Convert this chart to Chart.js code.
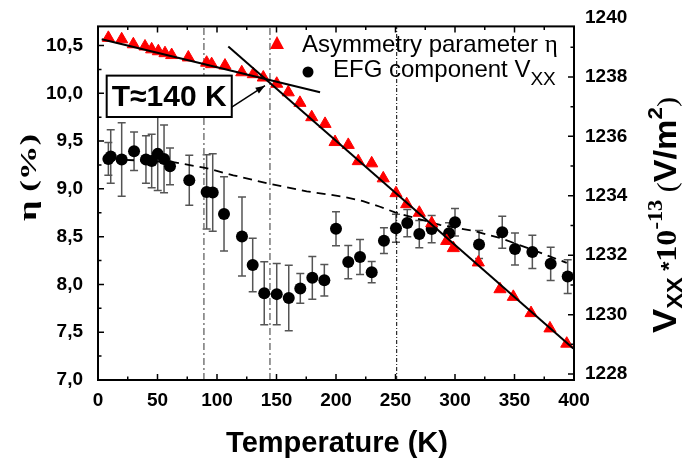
<!DOCTYPE html>
<html>
<head>
<meta charset="utf-8">
<script src="https://cdn.jsdelivr.net/npm/chart.js@4.4.1/dist/chart.umd.min.js"></script>
<style>
  html, body { margin: 0; padding: 0; background: #fff; }
  #wrap { width: 686px; height: 466px; position: relative; }
</style>
</head>
<body>
<div id="wrap"><canvas id="myChart"></canvas></div>
<script>
// asymmetry parameter eta (%) vs temperature (K)
const etaTemp = [8.7, 19.9, 29.7, 39.5, 45.1, 50.7, 56.3, 61.9, 75.9, 91.3, 95.5, 106.7, 120.8, 130.5, 138.9, 150.2, 159.9, 169.7, 179.6, 190.8, 199.2, 210.3, 218.7, 230.0, 239.7, 250.4, 259.4, 270.0, 280.4, 293.0, 298.6, 319.6, 337.8, 349.0, 363.9, 379.8, 393.9];
const etaValues = [10.58, 10.565, 10.513, 10.49, 10.46, 10.44, 10.42, 10.40, 10.375, 10.32, 10.305, 10.29, 10.22, 10.20, 10.165, 10.10, 10.01, 9.9, 9.75, 9.68, 9.49, 9.46, 9.29, 9.267, 9.11, 8.955, 8.84, 8.75, 8.64, 8.455, 8.38, 8.23, 7.95, 7.87, 7.70, 7.54, 7.38];

// EFG component Vxx (right axis) with error bars
const vxxTemp = [8.7, 10.7, 19.9, 30.3, 40.3, 45.1, 50.2, 55.5, 60.5, 76.7, 91.3, 96.4, 105.9, 121.0, 130.0, 139.7, 150.2, 160.3, 170.0, 180.1, 190.2, 200.0, 210.3, 220.2, 230.0, 240.3, 250.4, 259.9, 270.0, 280.4, 295.0, 300.0, 320.2, 339.7, 350.4, 365.0, 380.4, 394.7];
const vxxValues = [1235.24, 1235.32, 1235.22, 1235.5, 1235.22, 1235.17, 1235.41, 1235.24, 1234.99, 1234.52, 1234.13, 1234.11, 1233.39, 1232.63, 1231.67, 1230.72, 1230.69, 1230.56, 1230.88, 1231.24, 1231.16, 1232.89, 1231.77, 1231.94, 1231.43, 1232.49, 1232.91, 1233.08, 1232.71, 1232.88, 1232.74, 1233.11, 1232.36, 1232.77, 1232.21, 1232.11, 1231.71, 1231.28];
const vxxErrors = [0.55, 0.9, 1.24, 0.65, 0.8, 0.9, 1.23, 1.14, 0.62, 0.84, 1.25, 1.3, 1.25, 1.33, 0.9, 1.06, 1.03, 1.1, 0.5, 0.72, 0.53, 0.57, 0.56, 0.59, 0.36, 0.43, 0.47, 0.46, 0.46, 0.46, 0.35, 0.46, 0.47, 0.54, 0.54, 0.56, 0.56, 0.57];

// dashed guide through Vxx
const trendTemp = [22.7, 63.3, 89.9, 113.7, 143.1, 175.4, 205.9, 222.7, 237.0, 249.6, 262.2, 287.4, 315.4, 337.8, 368.7, 393.9];
const trendValues = [1235.21, 1235.13, 1234.94, 1234.69, 1234.41, 1234.15, 1233.97, 1233.82, 1233.63, 1233.44, 1233.3, 1233.02, 1232.82, 1232.58, 1232.13, 1231.74];

// two linear fits of eta
const fitLowTemp = [3.1, 186.6];
const fitLowEta = [10.565, 10.01];
const fitHighTemp = [109.5, 399.4];
const fitHighEta = [10.49, 7.33];

// vertical dash-dot markers
const markTemp = [89, 144.5, 251];

// tick labels
const tempTicks = [0, 50, 100, 150, 200, 250, 300, 350, 400];
const etaTicks = [7.0, 7.5, 8.0, 8.5, 9.0, 9.5, 10.0, 10.5];
const vxxTicks = [1228, 1230, 1232, 1234, 1236, 1238, 1240];

const note = { text: 'T\u2248140 K', box: [7.3, 112.4, 10.185, 9.752], from: [112.4, 9.856], to: [140.3, 10.08] };

const sans = '"Liberation Sans", Arial, sans-serif';
const serif = '"Liberation Serif", "Times New Roman", serif';
const tickFont = { family: sans, size: 19, weight: 'bold' };

function withMinor(list) {
  const out = [];
  list.forEach((v, i) => {
    out.push(v);
    if (i < list.length - 1) out.push((v + list[i + 1]) / 2);
  });
  return out;
}

function pts(xs, ys) {
  return xs.map((x, i) => ({ x: x, y: ys[i] }));
}

function drawRich(ctx, parts, x, y, len, rotate) {
  ctx.save();
  ctx.translate(x, y);
  if (rotate) ctx.rotate(-Math.PI / 2);
  let total = 0;
  parts.forEach(p => { ctx.font = p.font; p.w = ctx.measureText(p.text).width; total += p.w; });
  ctx.scale(len / total, 1);
  ctx.fillStyle = '#000';
  ctx.textAlign = 'left';
  ctx.textBaseline = 'alphabetic';
  let cx = 0;
  parts.forEach(p => { ctx.font = p.font; ctx.fillText(p.text, cx, p.dy || 0); cx += p.w; });
  ctx.restore();
}

const decor = {
  id: 'decor',
  beforeDatasetsDraw(chart) {
    const ctx = chart.ctx, x = chart.scales.x, y2 = chart.scales.y2;
    ctx.save();
    ctx.strokeStyle = '#555';
    ctx.lineWidth = 1.5;
    vxxTemp.forEach((t, i) => {
      const px = x.getPixelForValue(t);
      const top = y2.getPixelForValue(vxxValues[i] + vxxErrors[i]);
      const bot = y2.getPixelForValue(vxxValues[i] - vxxErrors[i]);
      ctx.beginPath();
      ctx.moveTo(px, top); ctx.lineTo(px, bot);
      ctx.moveTo(px - 4, top); ctx.lineTo(px + 4, top);
      ctx.moveTo(px - 4, bot); ctx.lineTo(px + 4, bot);
      ctx.stroke();
    });
    ctx.restore();
  },
  afterDraw(chart) {
    const ctx = chart.ctx, a = chart.chartArea;
    const x = chart.scales.x, y = chart.scales.y, y2 = chart.scales.y2;
    ctx.save();
    ctx.strokeStyle = '#000';
    ctx.lineWidth = 2;
    ctx.strokeRect(a.left, a.top, a.right - a.left, a.bottom - a.top);

    ctx.lineWidth = 1.5;
    ctx.beginPath();
    x.ticks.forEach(t => {
      if (t.value < x.min || t.value > x.max) return;
      const len = t.label ? 6 : 3.5, px = x.getPixelForValue(t.value);
      ctx.moveTo(px, a.bottom); ctx.lineTo(px, a.bottom - len);
      ctx.moveTo(px, a.top); ctx.lineTo(px, a.top + len);
    });
    y.ticks.forEach(t => {
      if (t.value < y.min || t.value > y.max) return;
      const len = t.label ? 6 : 3.5, py = y.getPixelForValue(t.value);
      ctx.moveTo(a.left, py); ctx.lineTo(a.left + len, py);
    });
    y2.ticks.forEach(t => {
      if (t.value < y2.min || t.value > y2.max) return;
      const len = t.label ? 6 : 3.5, py = y2.getPixelForValue(t.value);
      ctx.moveTo(a.right, py); ctx.lineTo(a.right - len, py);
    });
    ctx.stroke();

    // annotation box and arrow
    const bx1 = x.getPixelForValue(note.box[0]), bx2 = x.getPixelForValue(note.box[1]);
    const by1 = y.getPixelForValue(note.box[2]), by2 = y.getPixelForValue(note.box[3]);
    ctx.fillStyle = '#fff';
    ctx.fillRect(bx1, by1, bx2 - bx1, by2 - by1);
    ctx.lineWidth = 2;
    ctx.strokeRect(bx1, by1, bx2 - bx1, by2 - by1);
    ctx.fillStyle = '#000';
    ctx.font = 'bold 30px ' + sans;
    ctx.textAlign = 'center';
    ctx.textBaseline = 'middle';
    ctx.fillText(note.text, (bx1 + bx2) / 2, (by1 + by2) / 2 + 1);
    const ax1 = x.getPixelForValue(note.from[0]), ay1 = y.getPixelForValue(note.from[1]);
    const ax2 = x.getPixelForValue(note.to[0]), ay2 = y.getPixelForValue(note.to[1]);
    ctx.lineWidth = 1.5;
    ctx.beginPath(); ctx.moveTo(ax1, ay1); ctx.lineTo(ax2, ay2); ctx.stroke();
    const ang = Math.atan2(ay2 - ay1, ax2 - ax1);
    ctx.beginPath();
    ctx.moveTo(ax2, ay2);
    ctx.lineTo(ax2 - 10 * Math.cos(ang - 0.35), ay2 - 10 * Math.sin(ang - 0.35));
    ctx.lineTo(ax2 - 10 * Math.cos(ang + 0.35), ay2 - 10 * Math.sin(ang + 0.35));
    ctx.closePath(); ctx.fill();

    // legend
    ctx.fillStyle = '#ff0000';
    ctx.beginPath();
    ctx.moveTo(277, 36); ctx.lineTo(284, 49); ctx.lineTo(270, 49); ctx.closePath(); ctx.fill();
    ctx.fillStyle = '#000';
    ctx.beginPath(); ctx.arc(308, 72, 5.5, 0, Math.PI * 2); ctx.fill();
    ctx.textAlign = 'left';
    ctx.textBaseline = 'alphabetic';
    ctx.font = '24px ' + sans;
    ctx.fillText('Asymmetry parameter ', 302, 52);
    const w1 = ctx.measureText('Asymmetry parameter ').width;
    ctx.font = '25px ' + serif;
    ctx.fillText('\u03b7', 302 + w1, 52);
    ctx.font = '24px ' + sans;
    ctx.fillText('EFG component V', 333, 77);
    const w2 = ctx.measureText('EFG component V').width;
    ctx.font = '19px ' + sans;
    ctx.fillText('XX', 333 + w2, 85);

    // axis titles
    ctx.font = 'bold 29px ' + sans;
    ctx.textAlign = 'center';
    ctx.textBaseline = 'middle';
    ctx.fillText('Temperature (K)', 337, 444);
    ctx.restore();

    drawRich(ctx, [
      { text: '\u03b7', font: 'bold 25px ' + serif },
      { text: ' (%)', font: 'bold 24px ' + serif }
    ], 36, 221, 87, true);

    drawRich(ctx, [
      { text: 'V', font: 'bold 34px ' + sans },
      { text: 'XX', font: 'bold 22px ' + sans, dy: 6 },
      { text: ' *', font: 'bold 22px ' + sans },
      { text: '10', font: 'bold 30px ' + serif },
      { text: '-13', font: 'bold 21px ' + serif, dy: -14 },
      { text: ' (', font: '28px ' + serif },
      { text: 'V/m', font: 'bold 32px ' + sans },
      { text: '2', font: 'bold 21px ' + sans, dy: -14 },
      { text: ')', font: '28px ' + serif }
    ], 676, 333, 236, true);
  }
};

const vlineSets = markTemp.map((t, i) => ({
  data: [{ x: t, y: 7 }, { x: t, y: 10.7 }],
  yAxisID: 'y',
  showLine: true,
  pointRadius: 0,
  borderColor: i < 2 ? '#777' : '#000',
  borderWidth: i < 2 ? 1.5 : 1,
  borderDash: i < 2 ? [7, 3, 2, 3] : [4, 2, 1, 2],
  order: 4
}));

new Chart(document.getElementById('myChart'), {
  type: 'scatter',
  data: {
    datasets: [
      {
        label: 'Fit low',
        data: pts(fitLowTemp, fitLowEta),
        yAxisID: 'y', showLine: true, pointRadius: 0,
        borderColor: '#000', borderWidth: 2, order: 0
      },
      {
        label: 'Fit high',
        data: pts(fitHighTemp, fitHighEta),
        yAxisID: 'y', showLine: true, pointRadius: 0,
        borderColor: '#000', borderWidth: 2, order: 0
      },
      {
        label: 'Asymmetry parameter',
        data: pts(etaTemp, etaValues),
        yAxisID: 'y', pointStyle: 'triangle', pointRadius: 7,
        backgroundColor: '#ff0000', borderColor: '#ff0000', borderWidth: 1, order: 1
      },
      {
        label: 'EFG component',
        data: pts(vxxTemp, vxxValues),
        yAxisID: 'y2', pointStyle: 'circle', pointRadius: 6,
        backgroundColor: '#000', borderColor: '#000', borderWidth: 0, order: 2
      },
      {
        label: 'Trend',
        data: pts(trendTemp, trendValues),
        yAxisID: 'y2', showLine: true, pointRadius: 0,
        borderColor: '#000', borderWidth: 1.8, borderDash: [9, 6], order: 3
      },
      ...vlineSets
    ]
  },
  options: {
    responsive: true,
    maintainAspectRatio: false,
    animation: false,
    layout: { padding: { top: 24, left: 0, right: 0, bottom: 0 } },
    plugins: { legend: { display: false }, tooltip: { enabled: false } },
    scales: {
      x: {
        type: 'linear', min: 0, max: 400,
        grid: { display: false, drawTicks: false }, border: { display: false },
        afterBuildTicks: s => { s.ticks = withMinor(tempTicks).map(v => ({ value: v })); },
        afterFit: s => { s.height = 86; },
        ticks: {
          autoSkip: false, maxRotation: 0, padding: 9, color: '#000', font: tickFont,
          callback: v => tempTicks.includes(v) ? String(v) : ''
        }
      },
      y: {
        position: 'left', min: 7, max: 10.7,
        grid: { display: false, drawTicks: false }, border: { display: false },
        afterBuildTicks: s => { s.ticks = withMinor(etaTicks).map(v => ({ value: v })); },
        afterFit: s => { s.width = 98; },
        ticks: {
          autoSkip: false, padding: 15, color: '#000', font: tickFont,
          callback: v => etaTicks.includes(v) ? v.toFixed(1).replace('.', ',') : ''
        }
      },
      y2: {
        position: 'right', min: 1227.8, max: 1239.7,
        grid: { display: false, drawTicks: false }, border: { display: false },
        afterBuildTicks: s => { s.ticks = withMinor(vxxTicks).map(v => ({ value: v })); },
        afterFit: s => { s.width = 112; },
        ticks: {
          autoSkip: false, padding: 11, color: '#000', font: tickFont,
          callback: v => vxxTicks.includes(v) ? String(v) : ''
        }
      }
    }
  },
  plugins: [decor]
});
</script>
</body>
</html>
